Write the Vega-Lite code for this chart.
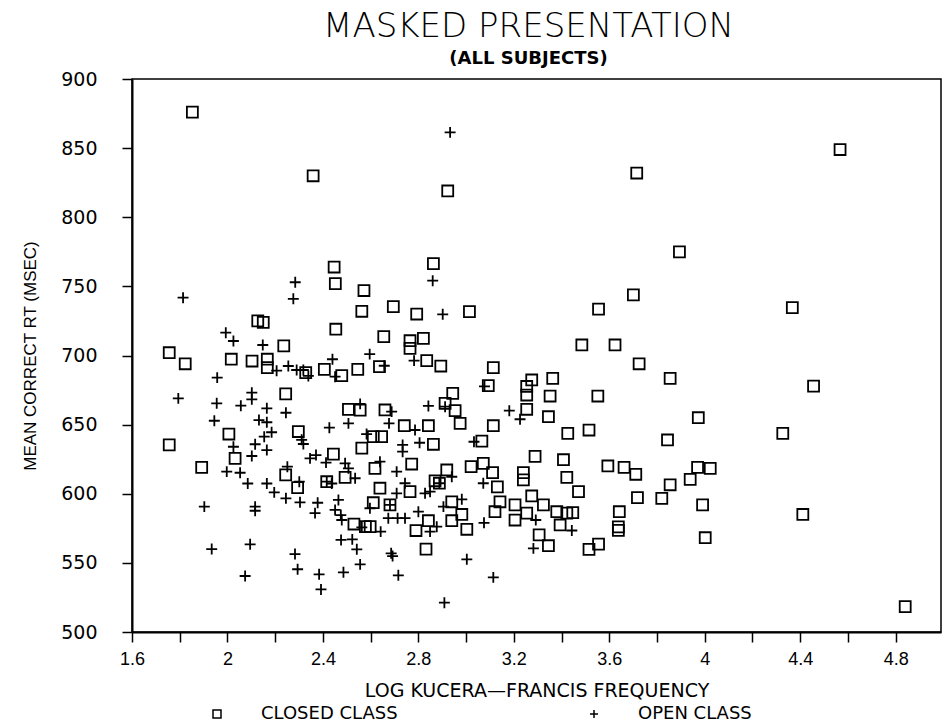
{
  "$schema": "https://vega.github.io/schema/vega-lite/v6.json",
  "autosize": "none",
  "width": 809,
  "height": 553,
  "padding": {"left": 132, "top": 79, "right": 1, "bottom": 95},
  "background": "white",
  "title": {
    "text": "MASKED PRESENTATION",
    "subtitle": "(ALL SUBJECTS)",
    "anchor": "middle",
    "frame": "group",
    "font": "DejaVu Sans",
    "fontSize": 34,
    "fontWeight": 200,
    "color": "black",
    "subtitleFont": "DejaVu Sans",
    "subtitleFontSize": 18,
    "subtitleFontWeight": "bold",
    "subtitleColor": "black",
    "subtitlePadding": 6,
    "offset": 2,
    "dx": -8
  },
  "config": {
    "view": {"stroke": "black", "strokeWidth": 1.5},
    "axis": {
      "domainColor": "black",
      "domainWidth": 2,
      "tickColor": "black",
      "tickWidth": 1.5,
      "tickSize": 10,
      "grid": false,
      "labelColor": "black",
      "titleColor": "black",
      "titleFontWeight": "normal"
    }
  },
  "data": {
    "values": [
      {"x": 1.853, "rt": 876, "cls": "CLOSED CLASS"},
      {"x": 2.359, "rt": 830, "cls": "CLOSED CLASS"},
      {"x": 2.447, "rt": 764, "cls": "CLOSED CLASS"},
      {"x": 3.715, "rt": 832, "cls": "CLOSED CLASS"},
      {"x": 2.923, "rt": 819, "cls": "CLOSED CLASS"},
      {"x": 2.863, "rt": 766.5, "cls": "CLOSED CLASS"},
      {"x": 4.567, "rt": 849, "cls": "CLOSED CLASS"},
      {"x": 3.894, "rt": 775, "cls": "CLOSED CLASS"},
      {"x": 2.452, "rt": 752, "cls": "CLOSED CLASS"},
      {"x": 2.572, "rt": 747, "cls": "CLOSED CLASS"},
      {"x": 2.563, "rt": 732, "cls": "CLOSED CLASS"},
      {"x": 2.695, "rt": 735.3, "cls": "CLOSED CLASS"},
      {"x": 2.127, "rt": 725, "cls": "CLOSED CLASS"},
      {"x": 2.150, "rt": 724, "cls": "CLOSED CLASS"},
      {"x": 2.454, "rt": 719, "cls": "CLOSED CLASS"},
      {"x": 2.655, "rt": 713.6, "cls": "CLOSED CLASS"},
      {"x": 2.236, "rt": 707, "cls": "CLOSED CLASS"},
      {"x": 1.756, "rt": 702, "cls": "CLOSED CLASS"},
      {"x": 1.823, "rt": 694, "cls": "CLOSED CLASS"},
      {"x": 2.016, "rt": 697.3, "cls": "CLOSED CLASS"},
      {"x": 2.103, "rt": 696, "cls": "CLOSED CLASS"},
      {"x": 2.167, "rt": 697.3, "cls": "CLOSED CLASS"},
      {"x": 2.167, "rt": 691.2, "cls": "CLOSED CLASS"},
      {"x": 2.328, "rt": 687.6, "cls": "CLOSED CLASS"},
      {"x": 2.406, "rt": 690, "cls": "CLOSED CLASS"},
      {"x": 2.479, "rt": 685.4, "cls": "CLOSED CLASS"},
      {"x": 2.546, "rt": 690, "cls": "CLOSED CLASS"},
      {"x": 2.637, "rt": 692, "cls": "CLOSED CLASS"},
      {"x": 2.244, "rt": 672.2, "cls": "CLOSED CLASS"},
      {"x": 2.507, "rt": 661, "cls": "CLOSED CLASS"},
      {"x": 2.556, "rt": 660.5, "cls": "CLOSED CLASS"},
      {"x": 2.660, "rt": 660.6, "cls": "CLOSED CLASS"},
      {"x": 2.006, "rt": 643.2, "cls": "CLOSED CLASS"},
      {"x": 1.756, "rt": 635.3, "cls": "CLOSED CLASS"},
      {"x": 2.297, "rt": 645, "cls": "CLOSED CLASS"},
      {"x": 2.611, "rt": 641.3, "cls": "CLOSED CLASS"},
      {"x": 2.646, "rt": 641.3, "cls": "CLOSED CLASS"},
      {"x": 2.563, "rt": 633, "cls": "CLOSED CLASS"},
      {"x": 2.793, "rt": 730, "cls": "CLOSED CLASS"},
      {"x": 3.014, "rt": 731.7, "cls": "CLOSED CLASS"},
      {"x": 2.765, "rt": 710.7, "cls": "CLOSED CLASS"},
      {"x": 2.765, "rt": 705.2, "cls": "CLOSED CLASS"},
      {"x": 2.821, "rt": 712.4, "cls": "CLOSED CLASS"},
      {"x": 2.835, "rt": 696.3, "cls": "CLOSED CLASS"},
      {"x": 2.894, "rt": 692.4, "cls": "CLOSED CLASS"},
      {"x": 3.701, "rt": 743.8, "cls": "CLOSED CLASS"},
      {"x": 3.555, "rt": 733.6, "cls": "CLOSED CLASS"},
      {"x": 3.485, "rt": 707.6, "cls": "CLOSED CLASS"},
      {"x": 3.624, "rt": 707.6, "cls": "CLOSED CLASS"},
      {"x": 3.725, "rt": 694, "cls": "CLOSED CLASS"},
      {"x": 3.855, "rt": 683.5, "cls": "CLOSED CLASS"},
      {"x": 3.114, "rt": 691.2, "cls": "CLOSED CLASS"},
      {"x": 3.093, "rt": 678.2, "cls": "CLOSED CLASS"},
      {"x": 3.275, "rt": 682.3, "cls": "CLOSED CLASS"},
      {"x": 3.363, "rt": 683.5, "cls": "CLOSED CLASS"},
      {"x": 3.254, "rt": 677.6, "cls": "CLOSED CLASS"},
      {"x": 3.254, "rt": 671.4, "cls": "CLOSED CLASS"},
      {"x": 3.352, "rt": 670.7, "cls": "CLOSED CLASS"},
      {"x": 3.552, "rt": 670.7, "cls": "CLOSED CLASS"},
      {"x": 2.944, "rt": 672.6, "cls": "CLOSED CLASS"},
      {"x": 2.912, "rt": 665.4, "cls": "CLOSED CLASS"},
      {"x": 2.954, "rt": 660.1, "cls": "CLOSED CLASS"},
      {"x": 3.254, "rt": 661.1, "cls": "CLOSED CLASS"},
      {"x": 3.345, "rt": 655.7, "cls": "CLOSED CLASS"},
      {"x": 2.975, "rt": 650.9, "cls": "CLOSED CLASS"},
      {"x": 2.741, "rt": 649.2, "cls": "CLOSED CLASS"},
      {"x": 2.842, "rt": 649.2, "cls": "CLOSED CLASS"},
      {"x": 3.114, "rt": 649.2, "cls": "CLOSED CLASS"},
      {"x": 3.426, "rt": 643.7, "cls": "CLOSED CLASS"},
      {"x": 3.515, "rt": 646.1, "cls": "CLOSED CLASS"},
      {"x": 3.844, "rt": 638.9, "cls": "CLOSED CLASS"},
      {"x": 2.863, "rt": 635.8, "cls": "CLOSED CLASS"},
      {"x": 3.066, "rt": 638.1, "cls": "CLOSED CLASS"},
      {"x": 3.289, "rt": 627, "cls": "CLOSED CLASS"},
      {"x": 3.408, "rt": 624.6, "cls": "CLOSED CLASS"},
      {"x": 4.367, "rt": 734.6, "cls": "CLOSED CLASS"},
      {"x": 4.456, "rt": 677.9, "cls": "CLOSED CLASS"},
      {"x": 3.973, "rt": 655, "cls": "CLOSED CLASS"},
      {"x": 4.327, "rt": 643.7, "cls": "CLOSED CLASS"},
      {"x": 1.892, "rt": 619.1, "cls": "CLOSED CLASS"},
      {"x": 2.032, "rt": 625.6, "cls": "CLOSED CLASS"},
      {"x": 2.244, "rt": 613.6, "cls": "CLOSED CLASS"},
      {"x": 2.294, "rt": 604.4, "cls": "CLOSED CLASS"},
      {"x": 2.444, "rt": 628.7, "cls": "CLOSED CLASS"},
      {"x": 2.416, "rt": 608.7, "cls": "CLOSED CLASS"},
      {"x": 2.493, "rt": 611.9, "cls": "CLOSED CLASS"},
      {"x": 2.530, "rt": 578.1, "cls": "CLOSED CLASS"},
      {"x": 2.578, "rt": 576.2, "cls": "CLOSED CLASS"},
      {"x": 2.598, "rt": 576.2, "cls": "CLOSED CLASS"},
      {"x": 2.611, "rt": 593.5, "cls": "CLOSED CLASS"},
      {"x": 2.618, "rt": 618.4, "cls": "CLOSED CLASS"},
      {"x": 2.639, "rt": 604, "cls": "CLOSED CLASS"},
      {"x": 2.681, "rt": 592, "cls": "CLOSED CLASS"},
      {"x": 3.594, "rt": 620.1, "cls": "CLOSED CLASS"},
      {"x": 3.662, "rt": 619.1, "cls": "CLOSED CLASS"},
      {"x": 3.711, "rt": 614.1, "cls": "CLOSED CLASS"},
      {"x": 3.855, "rt": 606.5, "cls": "CLOSED CLASS"},
      {"x": 3.718, "rt": 597.2, "cls": "CLOSED CLASS"},
      {"x": 3.820, "rt": 596.7, "cls": "CLOSED CLASS"},
      {"x": 3.642, "rt": 587, "cls": "CLOSED CLASS"},
      {"x": 3.638, "rt": 576, "cls": "CLOSED CLASS"},
      {"x": 3.638, "rt": 573.5, "cls": "CLOSED CLASS"},
      {"x": 3.555, "rt": 563.6, "cls": "CLOSED CLASS"},
      {"x": 3.515, "rt": 559.8, "cls": "CLOSED CLASS"},
      {"x": 3.471, "rt": 601.5, "cls": "CLOSED CLASS"},
      {"x": 3.422, "rt": 611.9, "cls": "CLOSED CLASS"},
      {"x": 3.240, "rt": 615.3, "cls": "CLOSED CLASS"},
      {"x": 3.240, "rt": 610, "cls": "CLOSED CLASS"},
      {"x": 3.275, "rt": 598.4, "cls": "CLOSED CLASS"},
      {"x": 3.324, "rt": 592, "cls": "CLOSED CLASS"},
      {"x": 3.380, "rt": 587, "cls": "CLOSED CLASS"},
      {"x": 3.422, "rt": 586, "cls": "CLOSED CLASS"},
      {"x": 3.447, "rt": 586.3, "cls": "CLOSED CLASS"},
      {"x": 3.394, "rt": 577.4, "cls": "CLOSED CLASS"},
      {"x": 3.306, "rt": 570.2, "cls": "CLOSED CLASS"},
      {"x": 3.345, "rt": 562.4, "cls": "CLOSED CLASS"},
      {"x": 3.254, "rt": 586, "cls": "CLOSED CLASS"},
      {"x": 3.205, "rt": 581, "cls": "CLOSED CLASS"},
      {"x": 3.205, "rt": 592, "cls": "CLOSED CLASS"},
      {"x": 3.142, "rt": 594.2, "cls": "CLOSED CLASS"},
      {"x": 3.121, "rt": 587, "cls": "CLOSED CLASS"},
      {"x": 3.131, "rt": 605, "cls": "CLOSED CLASS"},
      {"x": 3.111, "rt": 615.3, "cls": "CLOSED CLASS"},
      {"x": 3.072, "rt": 622, "cls": "CLOSED CLASS"},
      {"x": 3.021, "rt": 619.6, "cls": "CLOSED CLASS"},
      {"x": 3.003, "rt": 574.3, "cls": "CLOSED CLASS"},
      {"x": 2.982, "rt": 585, "cls": "CLOSED CLASS"},
      {"x": 2.940, "rt": 594.2, "cls": "CLOSED CLASS"},
      {"x": 2.940, "rt": 580.5, "cls": "CLOSED CLASS"},
      {"x": 2.919, "rt": 617.2, "cls": "CLOSED CLASS"},
      {"x": 2.888, "rt": 607.6, "cls": "CLOSED CLASS"},
      {"x": 2.870, "rt": 609.4, "cls": "CLOSED CLASS"},
      {"x": 2.842, "rt": 580.5, "cls": "CLOSED CLASS"},
      {"x": 2.790, "rt": 573.4, "cls": "CLOSED CLASS"},
      {"x": 2.832, "rt": 560, "cls": "CLOSED CLASS"},
      {"x": 2.765, "rt": 601.5, "cls": "CLOSED CLASS"},
      {"x": 2.772, "rt": 621.5, "cls": "CLOSED CLASS"},
      {"x": 3.939, "rt": 610.4, "cls": "CLOSED CLASS"},
      {"x": 3.970, "rt": 619.1, "cls": "CLOSED CLASS"},
      {"x": 4.023, "rt": 618.4, "cls": "CLOSED CLASS"},
      {"x": 3.991, "rt": 592, "cls": "CLOSED CLASS"},
      {"x": 4.002, "rt": 568.2, "cls": "CLOSED CLASS"},
      {"x": 4.411, "rt": 585, "cls": "CLOSED CLASS"},
      {"x": 4.840, "rt": 518.3, "cls": "CLOSED CLASS"},
      {"x": 2.933, "rt": 861.4, "cls": "OPEN CLASS"},
      {"x": 2.284, "rt": 753, "cls": "OPEN CLASS"},
      {"x": 1.814, "rt": 741.8, "cls": "OPEN CLASS"},
      {"x": 2.276, "rt": 741, "cls": "OPEN CLASS"},
      {"x": 1.993, "rt": 716.5, "cls": "OPEN CLASS"},
      {"x": 2.025, "rt": 710.5, "cls": "OPEN CLASS"},
      {"x": 2.148, "rt": 707.6, "cls": "OPEN CLASS"},
      {"x": 2.206, "rt": 689, "cls": "OPEN CLASS"},
      {"x": 2.255, "rt": 692.4, "cls": "OPEN CLASS"},
      {"x": 2.290, "rt": 689.5, "cls": "OPEN CLASS"},
      {"x": 2.318, "rt": 689.5, "cls": "OPEN CLASS"},
      {"x": 2.339, "rt": 685.2, "cls": "OPEN CLASS"},
      {"x": 2.440, "rt": 697.3, "cls": "OPEN CLASS"},
      {"x": 2.451, "rt": 684.7, "cls": "OPEN CLASS"},
      {"x": 2.596, "rt": 701, "cls": "OPEN CLASS"},
      {"x": 2.657, "rt": 692.6, "cls": "OPEN CLASS"},
      {"x": 1.957, "rt": 684, "cls": "OPEN CLASS"},
      {"x": 1.794, "rt": 669, "cls": "OPEN CLASS"},
      {"x": 2.102, "rt": 673.1, "cls": "OPEN CLASS"},
      {"x": 2.102, "rt": 668.3, "cls": "OPEN CLASS"},
      {"x": 1.955, "rt": 665.4, "cls": "OPEN CLASS"},
      {"x": 2.056, "rt": 663.7, "cls": "OPEN CLASS"},
      {"x": 2.165, "rt": 661.8, "cls": "OPEN CLASS"},
      {"x": 2.245, "rt": 658.6, "cls": "OPEN CLASS"},
      {"x": 2.556, "rt": 665, "cls": "OPEN CLASS"},
      {"x": 2.688, "rt": 659.4, "cls": "OPEN CLASS"},
      {"x": 1.945, "rt": 652.8, "cls": "OPEN CLASS"},
      {"x": 2.132, "rt": 653.3, "cls": "OPEN CLASS"},
      {"x": 2.165, "rt": 651.7, "cls": "OPEN CLASS"},
      {"x": 2.427, "rt": 647.8, "cls": "OPEN CLASS"},
      {"x": 2.507, "rt": 650.9, "cls": "OPEN CLASS"},
      {"x": 2.677, "rt": 650.9, "cls": "OPEN CLASS"},
      {"x": 2.154, "rt": 641.3, "cls": "OPEN CLASS"},
      {"x": 2.185, "rt": 644.5, "cls": "OPEN CLASS"},
      {"x": 2.311, "rt": 639, "cls": "OPEN CLASS"},
      {"x": 2.318, "rt": 636, "cls": "OPEN CLASS"},
      {"x": 2.583, "rt": 643.2, "cls": "OPEN CLASS"},
      {"x": 2.025, "rt": 634, "cls": "OPEN CLASS"},
      {"x": 2.116, "rt": 635.8, "cls": "OPEN CLASS"},
      {"x": 2.165, "rt": 631.6, "cls": "OPEN CLASS"},
      {"x": 2.860, "rt": 754.1, "cls": "OPEN CLASS"},
      {"x": 2.902, "rt": 729.8, "cls": "OPEN CLASS"},
      {"x": 2.782, "rt": 696.3, "cls": "OPEN CLASS"},
      {"x": 3.077, "rt": 677.6, "cls": "OPEN CLASS"},
      {"x": 2.912, "rt": 663, "cls": "OPEN CLASS"},
      {"x": 2.842, "rt": 663.5, "cls": "OPEN CLASS"},
      {"x": 3.181, "rt": 660.1, "cls": "OPEN CLASS"},
      {"x": 3.226, "rt": 653.9, "cls": "OPEN CLASS"},
      {"x": 2.786, "rt": 646.1, "cls": "OPEN CLASS"},
      {"x": 2.805, "rt": 636.9, "cls": "OPEN CLASS"},
      {"x": 3.033, "rt": 637.6, "cls": "OPEN CLASS"},
      {"x": 2.734, "rt": 635.3, "cls": "OPEN CLASS"},
      {"x": 2.734, "rt": 630.4, "cls": "OPEN CLASS"},
      {"x": 2.102, "rt": 627.3, "cls": "OPEN CLASS"},
      {"x": 1.997, "rt": 616, "cls": "OPEN CLASS"},
      {"x": 2.053, "rt": 615.2, "cls": "OPEN CLASS"},
      {"x": 2.085, "rt": 607.4, "cls": "OPEN CLASS"},
      {"x": 2.165, "rt": 607.4, "cls": "OPEN CLASS"},
      {"x": 2.196, "rt": 601, "cls": "OPEN CLASS"},
      {"x": 2.245, "rt": 596.7, "cls": "OPEN CLASS"},
      {"x": 2.304, "rt": 593.8, "cls": "OPEN CLASS"},
      {"x": 1.903, "rt": 590.7, "cls": "OPEN CLASS"},
      {"x": 2.116, "rt": 590.7, "cls": "OPEN CLASS"},
      {"x": 2.116, "rt": 587.7, "cls": "OPEN CLASS"},
      {"x": 2.251, "rt": 619.6, "cls": "OPEN CLASS"},
      {"x": 2.301, "rt": 608.7, "cls": "OPEN CLASS"},
      {"x": 2.346, "rt": 625.6, "cls": "OPEN CLASS"},
      {"x": 2.371, "rt": 628, "cls": "OPEN CLASS"},
      {"x": 2.413, "rt": 622.5, "cls": "OPEN CLASS"},
      {"x": 2.378, "rt": 593.5, "cls": "OPEN CLASS"},
      {"x": 2.367, "rt": 586, "cls": "OPEN CLASS"},
      {"x": 2.416, "rt": 608.7, "cls": "OPEN CLASS"},
      {"x": 2.493, "rt": 622, "cls": "OPEN CLASS"},
      {"x": 2.507, "rt": 618.4, "cls": "OPEN CLASS"},
      {"x": 2.535, "rt": 611.2, "cls": "OPEN CLASS"},
      {"x": 2.437, "rt": 607.4, "cls": "OPEN CLASS"},
      {"x": 2.465, "rt": 595.5, "cls": "OPEN CLASS"},
      {"x": 2.451, "rt": 588.3, "cls": "OPEN CLASS"},
      {"x": 2.475, "rt": 584.6, "cls": "OPEN CLASS"},
      {"x": 2.479, "rt": 581, "cls": "OPEN CLASS"},
      {"x": 2.563, "rt": 575.7, "cls": "OPEN CLASS"},
      {"x": 2.642, "rt": 572.6, "cls": "OPEN CLASS"},
      {"x": 2.597, "rt": 589.5, "cls": "OPEN CLASS"},
      {"x": 2.639, "rt": 623.2, "cls": "OPEN CLASS"},
      {"x": 2.674, "rt": 582.3, "cls": "OPEN CLASS"},
      {"x": 2.713, "rt": 582.3, "cls": "OPEN CLASS"},
      {"x": 2.709, "rt": 600.3, "cls": "OPEN CLASS"},
      {"x": 2.709, "rt": 616, "cls": "OPEN CLASS"},
      {"x": 2.476, "rt": 566.6, "cls": "OPEN CLASS"},
      {"x": 2.523, "rt": 567, "cls": "OPEN CLASS"},
      {"x": 2.542, "rt": 559.8, "cls": "OPEN CLASS"},
      {"x": 2.556, "rt": 548.9, "cls": "OPEN CLASS"},
      {"x": 2.686, "rt": 556.9, "cls": "OPEN CLASS"},
      {"x": 2.716, "rt": 541, "cls": "OPEN CLASS"},
      {"x": 1.934, "rt": 560, "cls": "OPEN CLASS"},
      {"x": 2.095, "rt": 563.4, "cls": "OPEN CLASS"},
      {"x": 2.283, "rt": 556.4, "cls": "OPEN CLASS"},
      {"x": 2.294, "rt": 545.4, "cls": "OPEN CLASS"},
      {"x": 2.074, "rt": 540.5, "cls": "OPEN CLASS"},
      {"x": 2.384, "rt": 541.7, "cls": "OPEN CLASS"},
      {"x": 2.392, "rt": 530.8, "cls": "OPEN CLASS"},
      {"x": 2.486, "rt": 543.2, "cls": "OPEN CLASS"},
      {"x": 3.072, "rt": 607.6, "cls": "OPEN CLASS"},
      {"x": 3.075, "rt": 579, "cls": "OPEN CLASS"},
      {"x": 3.443, "rt": 573.4, "cls": "OPEN CLASS"},
      {"x": 3.282, "rt": 560.5, "cls": "OPEN CLASS"},
      {"x": 3.292, "rt": 581, "cls": "OPEN CLASS"},
      {"x": 2.982, "rt": 596, "cls": "OPEN CLASS"},
      {"x": 2.940, "rt": 612.3, "cls": "OPEN CLASS"},
      {"x": 2.905, "rt": 590.7, "cls": "OPEN CLASS"},
      {"x": 2.849, "rt": 572.6, "cls": "OPEN CLASS"},
      {"x": 2.877, "rt": 576.2, "cls": "OPEN CLASS"},
      {"x": 2.800, "rt": 587, "cls": "OPEN CLASS"},
      {"x": 2.744, "rt": 582.3, "cls": "OPEN CLASS"},
      {"x": 2.828, "rt": 600.3, "cls": "OPEN CLASS"},
      {"x": 2.849, "rt": 601.5, "cls": "OPEN CLASS"},
      {"x": 2.744, "rt": 607.6, "cls": "OPEN CLASS"},
      {"x": 3.003, "rt": 552.6, "cls": "OPEN CLASS"},
      {"x": 3.114, "rt": 539.5, "cls": "OPEN CLASS"},
      {"x": 2.909, "rt": 521.2, "cls": "OPEN CLASS"},
      {"x": 2.692, "rt": 554.9, "cls": "OPEN CLASS"},
      {"x": 2.888, "rt": 607.6, "cls": "OPEN CLASS"},
      {"x": 2.681, "rt": 592, "cls": "OPEN CLASS"}
    ]
  },
  "mark": {"type": "point", "filled": false, "stroke": "black", "strokeWidth": 1.8, "opacity": 1, "size": 120, "clip": true},
  "encoding": {
    "x": {
      "field": "x",
      "type": "quantitative",
      "scale": {"domain": [1.6, 4.99], "nice": false, "zero": false},
      "axis": {
        "title": "LOG KUCERA\u2014FRANCIS FREQUENCY",
        "values": [1.6, 1.8, 2.0, 2.2, 2.4, 2.6, 2.8, 3.0, 3.2, 3.4, 3.6, 3.8, 4.0, 4.2, 4.4, 4.6, 4.8],
        "labelExpr": "round(datum.value * 10) % 4 == 0 ? toString(round(datum.value * 10) / 10) : ''",
        "labelFont": "Liberation Sans",
        "labelFontSize": 18,
        "labelPadding": 8,
        "titleFont": "DejaVu Sans",
        "titleFontSize": 19,
        "titlePadding": 13,
        "labelFlush": false
      }
    },
    "y": {
      "field": "rt",
      "type": "quantitative",
      "scale": {"domain": [500, 900], "nice": false, "zero": false},
      "axis": {
        "title": "MEAN CORRECT RT (MSEC)",
        "values": [500, 550, 600, 650, 700, 750, 800, 850, 900],
        "labelFont": "DejaVu Sans",
        "labelFontSize": 19,
        "labelPadding": 25,
        "titleFont": "Liberation Sans",
        "titleFontSize": 17,
        "titlePadding": 21,
        "labelFlush": false
      }
    },
    "shape": {
      "field": "cls",
      "type": "nominal",
      "scale": {"domain": ["CLOSED CLASS", "OPEN CLASS"], "range": ["square", "M-1,0H1M0,-1V1"]},
      "legend": {
        "title": null,
        "orient": "none",
        "direction": "horizontal",
        "legendX": 76,
        "legendY": 626,
        "padding": 0,
        "labelFont": "DejaVu Sans",
        "labelFontSize": 18,
        "labelColor": "black",
        "labelOffset": 35,
        "columnPadding": 187,
        "symbolSize": 64,
        "symbolStrokeColor": "black",
        "symbolStrokeWidth": 1.5,
        "symbolFillColor": "transparent"
      }
    }
  }
}
